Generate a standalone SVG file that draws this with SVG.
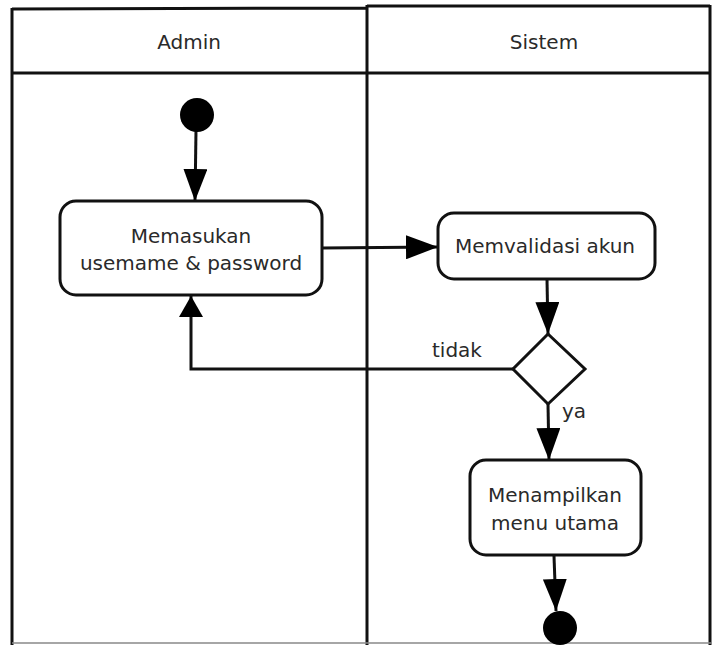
<svg xmlns="http://www.w3.org/2000/svg" width="712" height="645" viewBox="0 0 712 645">
<style>
.lane{fill:none;stroke:#111;stroke-width:3}
.node{fill:#fff;stroke:#111;stroke-width:3}
.dot{fill:#000}
.lbl{font-family:"DejaVu Sans",Verdana,sans-serif;font-size:20px;fill:#2a2a2a;text-anchor:middle}
.lbl2{font-family:"DejaVu Sans",Verdana,sans-serif;font-size:20px;fill:#2a2a2a}
.edge{fill:none;stroke:#111;stroke-width:3}
</style>
<defs>
<marker id="arr" markerUnits="userSpaceOnUse" markerWidth="32" markerHeight="24" refX="32" refY="12" orient="auto"><path d="M0,0 L32,12 L0,24 z" fill="#000"/></marker>
<marker id="arrS" markerUnits="userSpaceOnUse" markerWidth="21" markerHeight="24" refX="21" refY="12" orient="auto"><path d="M0,0 L21,12 L0,24 z" fill="#000"/></marker>
</defs>
<rect width="712" height="645" fill="#fff"/>
<g id="lanes">
<path class="lane" d="M12,9 L367,8 M367,6 L710,6 M12,73 L710,73 M12,8 L12,645 M367,5 L367,645 M710,5 L710,645"/>
<line x1="12" y1="643" x2="712" y2="643" stroke="#888" stroke-width="1.5"/>
<text class="lbl" x="189" y="49">Admin</text>
<text class="lbl" x="544" y="49">Sistem</text>
</g>
<g id="connectors">
<line class="edge" x1="196" y1="130" x2="195" y2="201" marker-end="url(#arr)"/>
<line class="edge" x1="322" y1="248" x2="438" y2="247" marker-end="url(#arr)"/>
<line class="edge" x1="547" y1="279" x2="548" y2="334" marker-end="url(#arr)"/>
<polyline class="edge" points="513,369 191,369 191,296" marker-end="url(#arrS)"/>
<text class="lbl2" x="432" y="357">tidak</text>
<line class="edge" x1="548" y1="404" x2="549" y2="460" marker-end="url(#arr)"/>
<text class="lbl2" x="562" y="418">ya</text>
<line class="edge" x1="554" y1="556" x2="556" y2="611" marker-end="url(#arr)"/>
</g>
<g id="start"><circle class="dot" cx="197" cy="115" r="17"/></g>
<g id="n1">
<rect class="node" x="60" y="201" width="262" height="94" rx="16"/>
<text class="lbl" x="191" y="243">Memasukan</text>
<text class="lbl" x="191" y="270">usemame &amp; password</text>
</g>
<g id="n2">
<rect class="node" x="438" y="213" width="217" height="66" rx="16"/>
<text class="lbl" x="545" y="253">Memvalidasi akun</text>
</g>
<g id="decision"><polygon class="node" points="548,334 585,369 548,404 513,369"/></g>
<g id="n3">
<rect class="node" x="470" y="460" width="171" height="95" rx="16"/>
<text class="lbl" x="555" y="502">Menampilkan</text>
<text class="lbl" x="555" y="530">menu utama</text>
</g>
<g id="end"><circle class="dot" cx="560" cy="628" r="17"/></g>
</svg>
